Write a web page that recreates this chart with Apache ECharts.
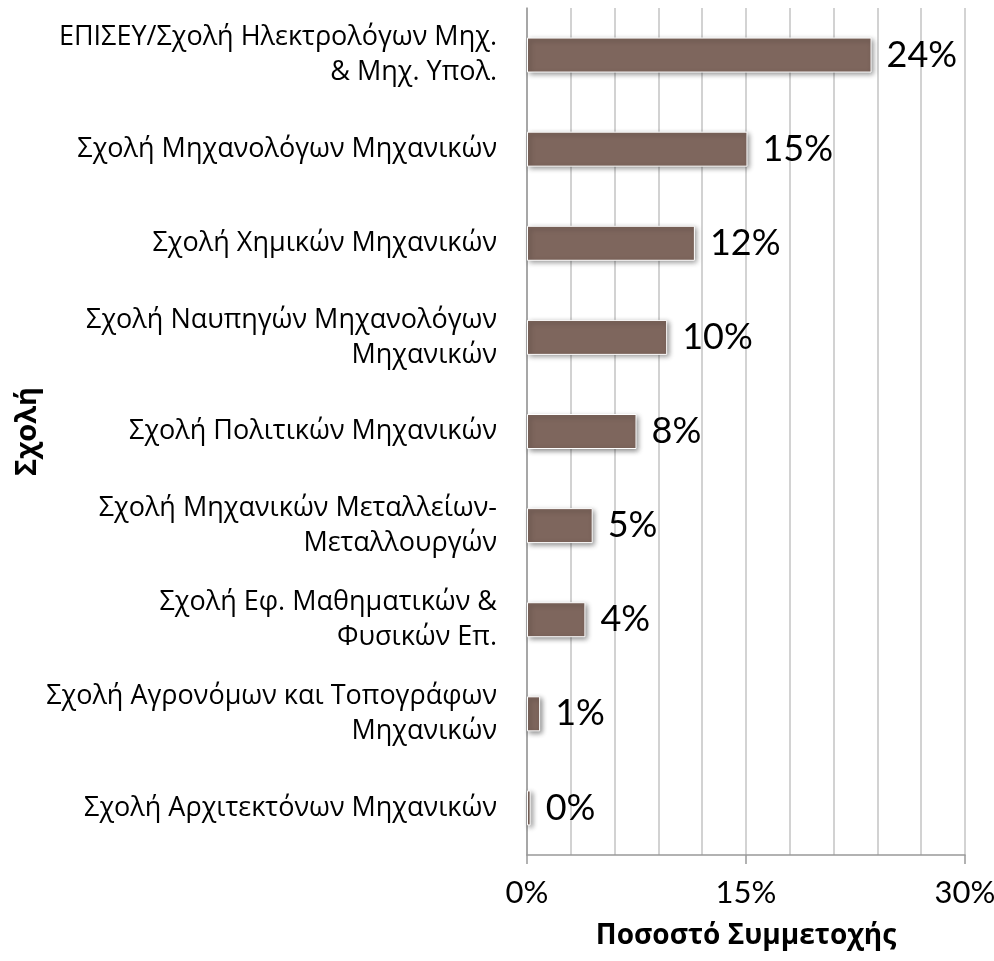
<!DOCTYPE html>
<html>
<head>
<meta charset="utf-8">
<script src="https://cdn.jsdelivr.net/npm/echarts@6/dist/echarts.min.js"></script>
<style>
  html, body { margin: 0; padding: 0; background: #fff; }
  #main { width: 994px; height: 961px; }
</style>
</head>
<body>
<div id="main"></div>
<script>
// schools, top to bottom
var schools = [
    'ΕΠΙΣΕΥ/Σχολή Ηλεκτρολόγων Μηχ.\n& Μηχ. Υπολ.',
    'Σχολή Μηχανολόγων Μηχανικών',
    'Σχολή Χημικών Μηχανικών',
    'Σχολή Ναυπηγών Μηχανολόγων\nΜηχανικών',
    'Σχολή Πολιτικών Μηχανικών',
    'Σχολή Μηχανικών Μεταλλείων-\nΜεταλλουργών',
    'Σχολή Εφ. Μαθηματικών &\nΦυσικών Επ.',
    'Σχολή Αγρονόμων και Τοπογράφων\nΜηχανικών',
    'Σχολή Αρχιτεκτόνων Μηχανικών'
];
// participation share (%)
var shares = [23.6, 15.1, 11.5, 9.6, 7.5, 4.5, 4.0, 0.9, 0.25];
// printed labels
var shareLabels = ['24%', '15%', '12%', '10%', '8%', '5%', '4%', '1%', '0%'];
var xTicks = [0, 15, 30];

var option = {
    backgroundColor: '#fff',
    animation: false,
    grid: {
        left: 527,
        right: 29,
        top: 8,
        bottom: 106,
        containLabel: false,
        outerBoundsMode: 'none'
    },
    xAxis: {
        type: 'value',
        min: xTicks[0],
        max: xTicks[xTicks.length - 1],
        interval: xTicks[1] - xTicks[0],
        name: 'Ποσοστό Συμμετοχής',
        nameLocation: 'middle',
        nameGap: 67,
        nameTextStyle: {
            fontFamily: 'Open Sans',
            fontWeight: 'bold',
            fontSize: 28,
            color: '#000'
        },
        axisLine: { show: true, lineStyle: { color: '#999', width: 1.5 } },
        axisTick: { show: true, length: 9, lineStyle: { color: '#999', width: 1.5 } },
        minorTick: { show: false, splitNumber: 5 },
        splitLine: { show: true, lineStyle: { color: '#c4c4c4', width: 1.5 } },
        minorSplitLine: { show: true, lineStyle: { color: '#c4c4c4', width: 1.5 } },
        axisLabel: {
            margin: 22,
            fontFamily: 'Lato',
            fontSize: 31,
            color: '#000',
            formatter: '{value}%'
        }
    },
    yAxis: {
        type: 'category',
        inverse: true,
        data: schools,
        name: 'Σχολή',
        nameLocation: 'middle',
        nameRotate: 90,
        nameGap: 484,
        nameTextStyle: {
            fontFamily: 'Open Sans',
            fontWeight: 'bold',
            fontSize: 29,
            color: '#000'
        },
        axisLine: { show: true, lineStyle: { color: '#999', width: 1.5 } },
        axisTick: { show: false },
        splitLine: { show: false },
        axisLabel: {
            margin: 30,
            fontFamily: 'Open Sans',
            fontSize: 27,
            lineHeight: 35,
            color: '#000',
            align: 'right'
        }
    },
    series: [{
        type: 'bar',
        data: shares,
        barWidth: 35,
        itemStyle: {
            color: '#7e665d',
            borderColor: '#fff',
            borderWidth: 1,
            shadowColor: 'rgba(0,0,0,0.45)',
            shadowBlur: 5,
            shadowOffsetX: 2,
            shadowOffsetY: 2
        },
        label: {
            show: true,
            position: 'right',
            distance: 15,
            fontFamily: 'Lato',
            fontSize: 36,
            color: '#000',
            formatter: function (p) { return shareLabels[p.dataIndex]; }
        }
    }]
};

var myChart = echarts.init(document.getElementById('main'));
myChart.setOption(option);
</script>
</body>
</html>
